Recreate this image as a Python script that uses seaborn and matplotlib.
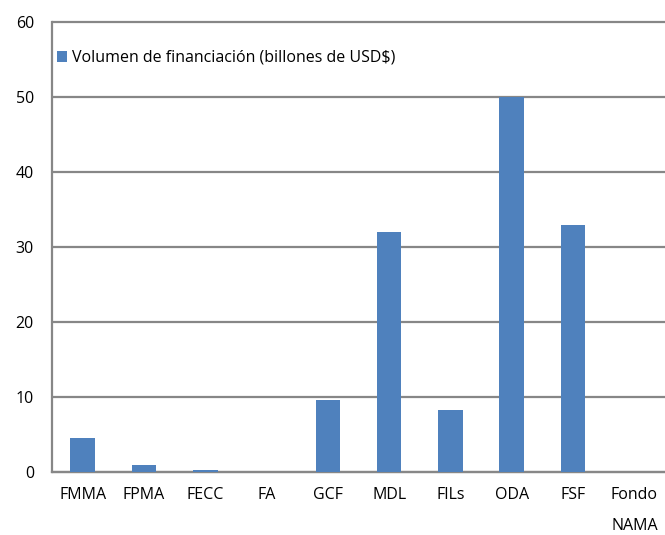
import numpy as np
import pandas as pd
import seaborn as sns
import matplotlib.pyplot as plt

categories = ['FMMA', 'FPMA', 'FECC', 'FA', 'GCF', 'MDL', 'FILs', 'ODA', 'FSF', 'Fondo\nNAMA']
volumen    = [4.5, 0.9, 0.3, 0.0, 9.6, 32.0, 8.3, 50.0, 33.0, 0.0]
serie      = 'Volumen de financiación (billones de USD$)'
yticks     = [0, 10, 20, 30, 40, 50, 60]

df = pd.DataFrame({'cat': categories, 'val': volumen})

sns.set_style('white')
plt.rcParams['font.family'] = ['Open Sans', 'DejaVu Sans']
plt.rcParams['text.color'] = 'black'
plt.rcParams['xtick.labelcolor'] = 'black'
plt.rcParams['ytick.labelcolor'] = 'black'
gray = '#878787'
fs = 11.5

fig = plt.figure(figsize=(6.65, 5.35), dpi=100)
ax = fig.add_axes([52 / 665, 1 - 472 / 535, 1 - 52 / 665, (472 - 22) / 535])

sns.barplot(data=df, x='cat', y='val', color='#4F81BD', width=0.4,
            saturation=1, linewidth=0, label=serie, ax=ax, zorder=3)

ax.set_ylim(0, 60)
ax.set_xlim(-0.5, -0.5 + (665 - 52) / 62)
ax.set_yticks(yticks)
ax.set_yticklabels([str(v) for v in yticks], fontsize=fs)
ax.yaxis.grid(True, color=gray, linewidth=1.6, zorder=0)
for gl in ax.yaxis.get_gridlines():
    gl.set_clip_on(False)
ax.set_axisbelow(True)

# category boundaries get the tick marks, centers get the labels
ax.set_xticks(np.arange(len(categories) + 1) - 0.5)
ax.set_xticklabels([])
ax.set_xticks(np.arange(len(categories)), minor=True)
ax.set_xticklabels(categories, minor=True, fontsize=fs, linespacing=2.2, va='top')
ax.tick_params(axis='x', which='major', length=6, width=1.6, color=gray, direction='out')
ax.tick_params(axis='x', which='minor', length=0, pad=11)
ax.tick_params(axis='y', length=6, width=1.6, color=gray, direction='out', pad=7)
ax.set_xlabel('')
ax.set_ylabel('')

for s in ['top', 'right']:
    ax.spines[s].set_visible(False)
for s in ['left', 'bottom']:
    ax.spines[s].set_color(gray)
    ax.spines[s].set_linewidth(1.6)

ax.legend(loc='upper left', bbox_to_anchor=(-0.015, 0.97), frameon=False,
          fontsize=fs, handlelength=0.6, handleheight=0.7, handletextpad=0.3)

fig.savefig('out.png', dpi=100)
